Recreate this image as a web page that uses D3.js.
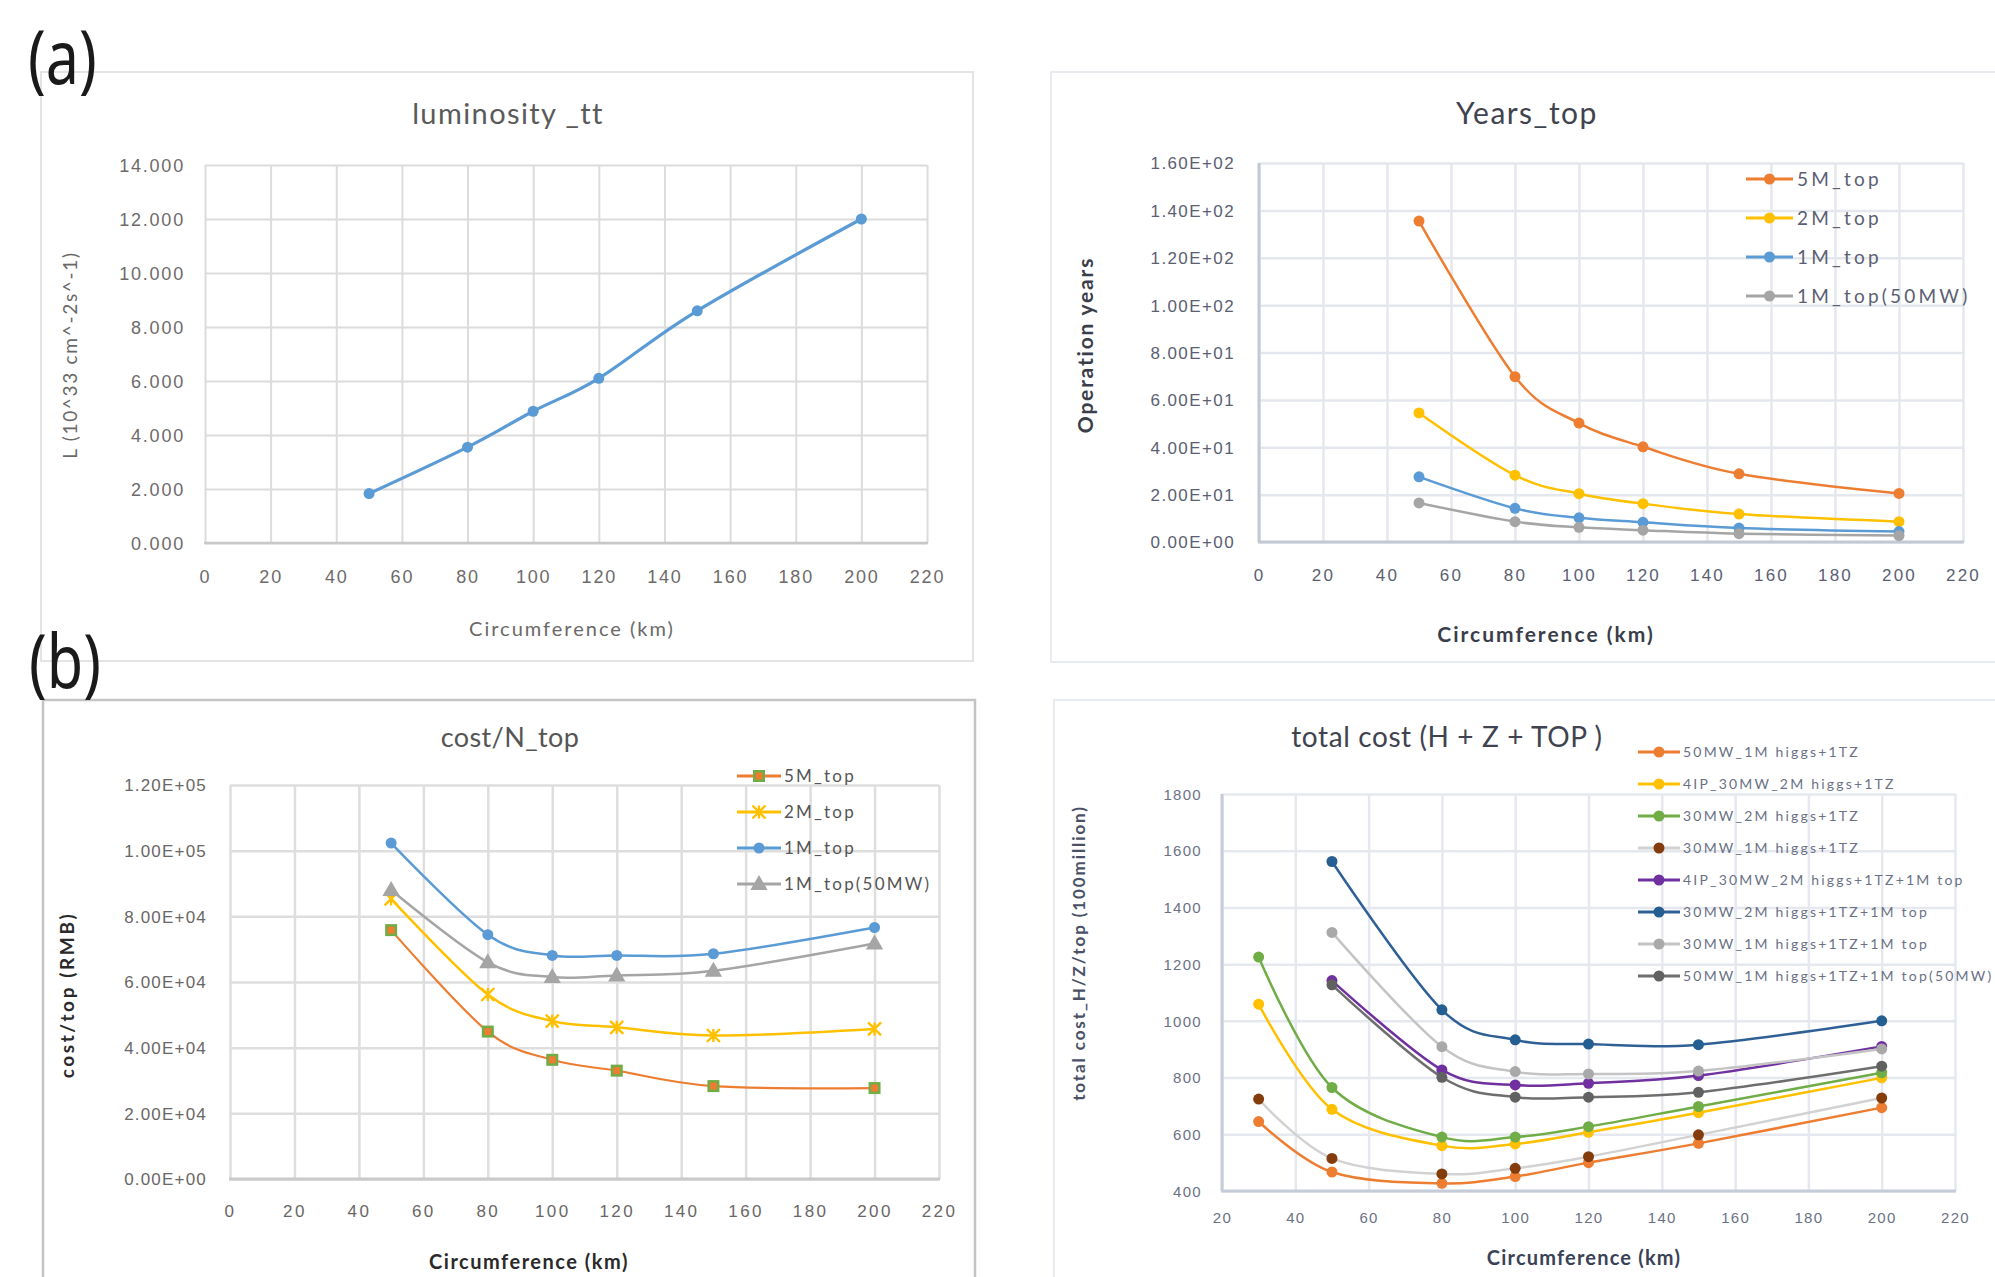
<!DOCTYPE html>
<html>
<head>
<meta charset="utf-8">
<script src="https://cdn.jsdelivr.net/npm/d3@7"></script>
<style>
  html, body { margin: 0; padding: 0; background: #fff; }
  svg { display: block; font-family: Lato, "Open Sans", "Liberation Sans", sans-serif; }
</style>
</head>
<body>
<svg id="fig" width="1995" height="1277"></svg>
<script>
// ---------------- data ----------------
const circumference = [50, 80, 100, 120, 150, 200];

// (a) luminosity for t-tbar running, 10^33 cm^-2 s^-1
const luminosityTT = [1.83, 3.55, 4.88, 6.1, 8.6, 12.0];

// operation years needed for each top sample
const topNames = ["5M_top", "2M_top", "1M_top", "1M_top(50MW)"];
const years5M = [135.5, 69.8, 50.2, 40.2, 28.8, 20.5];
const years2M = [54.5, 28.2, 20.4, 16.2, 11.8, 8.6];
const years1M = [27.5, 14.2, 10.2, 8.3, 5.9, 4.4];
const years1M50MW = [16.5, 8.6, 6.2, 5.0, 3.5, 2.7];

// cost per top quark (RMB)
const cost5M = [75800, 44900, 36300, 33000, 28300, 27700];
const cost2M = [85300, 56200, 48100, 46200, 43700, 45700];
const cost1M = [102300, 74400, 68100, 68100, 68600, 76600];
const cost1M50MW = [88000, 66000, 61500, 62000, 63400, 71700];

// total cost (100 million)
const totalCircA = [30, 50, 80, 100, 120, 150, 200];
const totalCircB = [50, 80, 100, 120, 150, 200];
const totalNames = [
  "50MW_1M higgs+1TZ",
  "4IP_30MW_2M higgs+1TZ",
  "30MW_2M higgs+1TZ",
  "30MW_1M higgs+1TZ",
  "4IP_30MW_2M higgs+1TZ+1M top",
  "30MW_2M higgs+1TZ+1M top",
  "30MW_1M higgs+1TZ+1M top",
  "50MW_1M higgs+1TZ+1M top(50MW)"
];
const total50MW1MH = [645, 467, 427, 451, 500, 568, 694];
const total4IP2MH = [1059, 688, 560, 566, 607, 676, 799];
const total30MW2MH = [1225, 765, 590, 590, 627, 698, 817];
const total30MW1MH = [724, 515, 460, 480, 521, 598, 728];
const total4IP2MHTop = [1142, 827, 774, 780, 807, 910];
const total30MW2MHTop = [1562, 1039, 933, 918, 916, 1000];
const total30MW1MHTop = [1312, 909, 821, 813, 823, 901];
const total50MW1MHTop = [1127, 801, 731, 731, 748, 840];

// axis ticks
const ticks0to220 = [0, 20, 40, 60, 80, 100, 120, 140, 160, 180, 200, 220];
const ticks20to220 = [20, 40, 60, 80, 100, 120, 140, 160, 180, 200, 220];
const lumTicks = [0, 2, 4, 6, 8, 10, 12, 14];
const yearsTicks = [0, 20, 40, 60, 80, 100, 120, 140, 160];
const costTicks = [0, 20000, 40000, 60000, 80000, 100000, 120000];
const totalTicks = [400, 600, 800, 1000, 1200, 1400, 1600, 1800];

// ---------------- helpers ----------------
const svg = d3.select("#fig");

// Excel-style "0.00E+00"
function sci(v) {
  if (v === 0) return "0.00E+00";
  const e = Math.floor(Math.log10(Math.abs(v)));
  const m = v / Math.pow(10, e);
  return m.toFixed(2) + "E" + (e >= 0 ? "+" : "-") + String(Math.abs(e)).padStart(2, "0");
}

function drawMarker(g, shape, cx, cy, color) {
  if (shape === "circle") {
    g.append("circle").attr("cx", cx).attr("cy", cy).attr("r", 5.5).attr("fill", color);
  } else if (shape === "square") {
    g.append("rect").attr("x", cx - 6).attr("y", cy - 6).attr("width", 12).attr("height", 12)
      .attr("fill", "#70AD47");
    g.append("rect").attr("x", cx - 3.5).attr("y", cy - 3.5).attr("width", 7).attr("height", 7)
      .attr("fill", "#ED7D31");
  } else if (shape === "x") {
    const s = 6.5;
    g.append("path")
      .attr("d", `M${cx - s},${cy - s}L${cx + s},${cy + s}M${cx - s},${cy + s}L${cx + s},${cy - s}M${cx},${cy - s}L${cx},${cy + s}`)
      .attr("stroke", color).attr("stroke-width", 2.4).attr("fill", "none");
  } else if (shape === "triangle") {
    g.append("path").attr("d", d3.symbol(d3.symbolTriangle, 130)())
      .attr("transform", `translate(${cx},${cy + 1})`).attr("fill", color);
  }
}

function addText(g, t) {
  const el = g.append("text")
    .attr("text-anchor", t.anchor || "middle")
    .attr("dy", "0.35em")
    .attr("font-size", t.size)
    .attr("font-weight", t.weight || "normal")
    .attr("letter-spacing", t.ls || 0)
    .attr("fill", t.color)
    .text(t.text);
  if (t.rotate) el.attr("transform", `translate(${t.x},${t.y}) rotate(-90)`);
  else el.attr("x", t.x).attr("y", t.y);
  return el;
}

function drawPanel(o) {
  const g = svg.append("g");
  const p = o.plot;
  const x = d3.scaleLinear().domain(o.xDomain).range([p.x0, p.x1]);
  const y = d3.scaleLinear().domain(o.yDomain).range([p.y1, p.y0]);

  // vertical grid
  g.append("g").attr("transform", `translate(0,${p.y1})`)
    .call(d3.axisBottom(x).tickValues(o.xTicks).tickSize(-(p.y1 - p.y0)).tickFormat(""))
    .call(a => a.select(".domain").remove())
    .call(a => a.selectAll("line").attr("stroke", o.gridColor).attr("stroke-width", o.gridWidth));
  // horizontal grid
  g.append("g").attr("transform", `translate(${p.x0},0)`)
    .call(d3.axisLeft(y).tickValues(o.yTicks).tickSize(-(p.x1 - p.x0)).tickFormat(""))
    .call(a => a.select(".domain").remove())
    .call(a => a.selectAll("line").attr("stroke", o.gridColor).attr("stroke-width", o.gridWidth));
  // axis lines
  g.append("line").attr("x1", p.x0 - 1).attr("x2", p.x1 + 1).attr("y1", p.y1).attr("y2", p.y1)
    .attr("stroke", o.axisColor).attr("stroke-width", o.axisWidth);
  if (o.leftAxis) {
    g.append("line").attr("x1", p.x0).attr("x2", p.x0).attr("y1", p.y0).attr("y2", p.y1)
      .attr("stroke", o.axisColor).attr("stroke-width", o.axisWidth);
  }

  // tick labels
  const xl = g.append("g").attr("transform", `translate(0,${p.y1})`)
    .call(d3.axisBottom(x).tickValues(o.xTicks).tickSize(0).tickFormat(d3.format("d")));
  xl.select(".domain").remove();
  xl.selectAll("text").attr("y", o.xTickDy).attr("dy", "0.35em")
    .attr("font-family", null).attr("font-size", o.xTick.size)
    .attr("letter-spacing", o.xTick.ls).attr("fill", o.xTick.color);

  const yl = g.append("g").attr("transform", `translate(${p.x0},0)`)
    .call(d3.axisLeft(y).tickValues(o.yTicks).tickSize(0).tickFormat(o.yFormat));
  yl.select(".domain").remove();
  yl.selectAll("text").attr("x", -o.yTickGap).attr("dy", "0.35em")
    .attr("font-family", null).attr("font-size", o.yTick.size)
    .attr("letter-spacing", o.yTick.ls).attr("fill", o.yTick.color);

  // titles
  addText(g, o.title);
  addText(g, o.xTitle);
  addText(g, Object.assign({ rotate: true }, o.yTitle));

  // series lines
  const line = d3.line().x(d => x(d[0])).y(d => y(d[1])).curve(d3.curveCatmullRom.alpha(0));
  o.series.forEach(s => {
    const pts = s.x.map((v, i) => [v, s.y[i]]);
    g.append("path").datum(pts).attr("d", line)
      .attr("fill", "none").attr("stroke", s.lineColor).attr("stroke-width", s.lineWidth || 2.5)
      .attr("stroke-linejoin", "round").attr("stroke-linecap", "round");
  });
  // series markers
  o.series.forEach(s => {
    const mg = g.append("g");
    s.x.forEach((v, i) => drawMarker(mg, s.shape, x(v), y(s.y[i]), s.markerColor));
  });

  // legend
  if (o.legend) {
    const L = o.legend;
    o.series.forEach((s, i) => {
      const ly = L.y + i * L.dy;
      const lg = g.append("g");
      lg.append("line").attr("x1", L.x).attr("x2", L.x + L.len).attr("y1", ly).attr("y2", ly)
        .attr("stroke", s.lineColor).attr("stroke-width", L.lineWidth);
      drawMarker(lg, s.shape, L.x + L.len / 2, ly, s.markerColor);
      addText(lg, { text: s.name, x: L.x + L.len + L.gap, y: ly, anchor: "start",
        size: L.size, ls: L.ls, color: L.color });
    });
  }
  return g;
}

// ---------------- panel frames ----------------
const frames = svg.append("g").attr("fill", "none");
frames.append("rect").attr("x", 41).attr("y", 72).attr("width", 932).attr("height", 589)
  .attr("stroke", "#E4E4E4").attr("stroke-width", 2);
frames.append("rect").attr("x", 1051).attr("y", 72).attr("width", 1000).attr("height", 590)
  .attr("stroke", "#E8EBF0").attr("stroke-width", 2);
frames.append("rect").attr("x", 43).attr("y", 700).attr("width", 932).attr("height", 700)
  .attr("stroke", "#C4C4C4").attr("stroke-width", 2.5);
frames.append("rect").attr("x", 1054).attr("y", 700).attr("width", 1000).attr("height", 700)
  .attr("stroke", "#E8EBF0").attr("stroke-width", 2);

// panel letters (tall, slightly condensed)
svg.append("text").attr("transform", "translate(28,84) scale(0.8,1)").attr("font-size", 74)
  .attr("font-family", "'Noto Sans', 'Open Sans', sans-serif").attr("fill", "#1a1a1a").text("(a)");
svg.append("text").attr("transform", "translate(29,688) scale(0.8,1)").attr("font-size", 74)
  .attr("font-family", "'Noto Sans', 'Open Sans', sans-serif").attr("fill", "#1a1a1a").text("(b)");

// ---------------- (a) luminosity ----------------
drawPanel({
  plot: { x0: 205, x1: 927, y0: 165, y1: 543 },
  xDomain: [0, 220], yDomain: [0, 14],
  xTicks: ticks0to220, yTicks: lumTicks, yFormat: d3.format(".3f"),
  gridColor: "#DCDCDC", gridWidth: 2, axisColor: "#C8C8C8", axisWidth: 2.5, leftAxis: false,
  xTickDy: 34, yTickGap: 20,
  xTick: { size: 18, ls: 1.8, color: "#6E6A6A" },
  yTick: { size: 18, ls: 1.8, color: "#6E6A6A" },
  title: { text: "luminosity _tt", x: 508, y: 114, size: 29, ls: 1.4, color: "#5A5A5A" },
  xTitle: { text: "Circumference (km)", x: 572, y: 629, size: 20, ls: 2, color: "#6B6868" },
  yTitle: { text: "L (10^33 cm^-2s^-1)", x: 70, y: 355, size: 19, ls: 1.7, color: "#6B6868" },
  series: [
    { name: "L", x: circumference, y: luminosityTT, lineColor: "#5B9BD5", markerColor: "#5B9BD5",
      shape: "circle", lineWidth: 3.2 }
  ]
});

// ---------------- Years_top ----------------
drawPanel({
  plot: { x0: 1259, x1: 1963, y0: 163, y1: 542 },
  xDomain: [0, 220], yDomain: [0, 160],
  xTicks: ticks0to220, yTicks: yearsTicks, yFormat: sci,
  gridColor: "#E4E7ED", gridWidth: 2.5, axisColor: "#C3C9D4", axisWidth: 3, leftAxis: true,
  xTickDy: 33, yTickGap: 24,
  xTick: { size: 17, ls: 2.2, color: "#5A6072" },
  yTick: { size: 17, ls: 1.4, color: "#5A6072" },
  title: { text: "Years_top", x: 1527, y: 113, size: 30, ls: 1.5, color: "#3F4350" },
  xTitle: { text: "Circumference (km)", x: 1546, y: 635, size: 21, ls: 2, color: "#3A3E4A", weight: "bold" },
  yTitle: { text: "Operation years", x: 1086, y: 345, size: 21, ls: 1.8, color: "#3A3E4A", weight: "bold" },
  series: [
    { name: topNames[0], x: circumference, y: years5M, lineColor: "#ED7D31", markerColor: "#ED7D31", shape: "circle" },
    { name: topNames[1], x: circumference, y: years2M, lineColor: "#FFC000", markerColor: "#FFC000", shape: "circle" },
    { name: topNames[2], x: circumference, y: years1M, lineColor: "#5B9BD5", markerColor: "#5B9BD5", shape: "circle" },
    { name: topNames[3], x: circumference, y: years1M50MW, lineColor: "#A5A5A5", markerColor: "#A5A5A5", shape: "circle" }
  ],
  legend: { x: 1746, y: 179, dy: 39, len: 47, gap: 4, lineWidth: 3, size: 19, ls: 3.2, color: "#5A6072" }
});

// ---------------- cost/N_top ----------------
drawPanel({
  plot: { x0: 230, x1: 939, y0: 785, y1: 1179 },
  xDomain: [0, 220], yDomain: [0, 120000],
  xTicks: ticks0to220, yTicks: costTicks, yFormat: sci,
  gridColor: "#DEDEDE", gridWidth: 2.5, axisColor: "#CACACA", axisWidth: 3, leftAxis: false,
  xTickDy: 32, yTickGap: 23,
  xTick: { size: 17, ls: 2.4, color: "#6A6666" },
  yTick: { size: 17, ls: 1.2, color: "#6A6666" },
  title: { text: "cost/N_top", x: 510, y: 738, size: 27, ls: 0.4, color: "#555" },
  xTitle: { text: "Circumference (km)", x: 529, y: 1262, size: 20, ls: 1.5, color: "#2A2A2A", weight: "bold" },
  yTitle: { text: "cost/top (RMB)", x: 67, y: 995, size: 19, ls: 2.6, color: "#2A2A2A", weight: "bold" },
  series: [
    { name: topNames[0], x: circumference, y: cost5M, lineColor: "#ED7D31", markerColor: "#70AD47", shape: "square", lineWidth: 2.2 },
    { name: topNames[1], x: circumference, y: cost2M, lineColor: "#FFC000", markerColor: "#FFC000", shape: "x", lineWidth: 2.5 },
    { name: topNames[2], x: circumference, y: cost1M, lineColor: "#5B9BD5", markerColor: "#5B9BD5", shape: "circle", lineWidth: 2.5 },
    { name: topNames[3], x: circumference, y: cost1M50MW, lineColor: "#A5A5A5", markerColor: "#A5A5A5", shape: "triangle", lineWidth: 2.5 }
  ],
  legend: { x: 737, y: 776, dy: 36, len: 44, gap: 3, lineWidth: 3, size: 17, ls: 2.2, color: "#555" }
});

// ---------------- total cost ----------------
drawPanel({
  plot: { x0: 1222, x1: 1955, y0: 794, y1: 1191 },
  xDomain: [20, 220], yDomain: [400, 1800],
  xTicks: ticks20to220, yTicks: totalTicks, yFormat: d3.format("d"),
  gridColor: "#E5E8EE", gridWidth: 2.5, axisColor: "#C5CCD7", axisWidth: 3, leftAxis: true,
  xTickDy: 27, yTickGap: 20,
  xTick: { size: 15, ls: 1.3, color: "#6B7185" },
  yTick: { size: 15, ls: 1.3, color: "#6B7185" },
  title: { text: "total cost (H + Z + TOP )", x: 1447, y: 737, size: 28, ls: 0.6, color: "#3F4350" },
  xTitle: { text: "Circumference (km)", x: 1584, y: 1258, size: 20, ls: 1.2, color: "#3A4257", weight: "bold" },
  yTitle: { text: "total cost_H/Z/top (100million)", x: 1079, y: 953, size: 17, ls: 1.9, color: "#4A5166", weight: "bold" },
  series: [
    { name: totalNames[0], x: totalCircA, y: total50MW1MH, lineColor: "#ED7D31", markerColor: "#ED7D31", shape: "circle" },
    { name: totalNames[1], x: totalCircA, y: total4IP2MH, lineColor: "#FFC000", markerColor: "#FFC000", shape: "circle" },
    { name: totalNames[2], x: totalCircA, y: total30MW2MH, lineColor: "#70AD47", markerColor: "#70AD47", shape: "circle" },
    { name: totalNames[3], x: totalCircA, y: total30MW1MH, lineColor: "#D2D2D2", markerColor: "#843C0C", shape: "circle" },
    { name: totalNames[4], x: totalCircB, y: total4IP2MHTop, lineColor: "#7030A0", markerColor: "#7030A0", shape: "circle" },
    { name: totalNames[5], x: totalCircB, y: total30MW2MHTop, lineColor: "#2E6096", markerColor: "#255E91", shape: "circle" },
    { name: totalNames[6], x: totalCircB, y: total30MW1MHTop, lineColor: "#C4C4C4", markerColor: "#A9A9A9", shape: "circle" },
    { name: totalNames[7], x: totalCircB, y: total50MW1MHTop, lineColor: "#6E6E6E", markerColor: "#616161", shape: "circle" }
  ],
  legend: { x: 1638, y: 752, dy: 32, len: 42, gap: 3, lineWidth: 3, size: 14, ls: 2.2, color: "#6B7185" }
});
</script>
</body>
</html>
